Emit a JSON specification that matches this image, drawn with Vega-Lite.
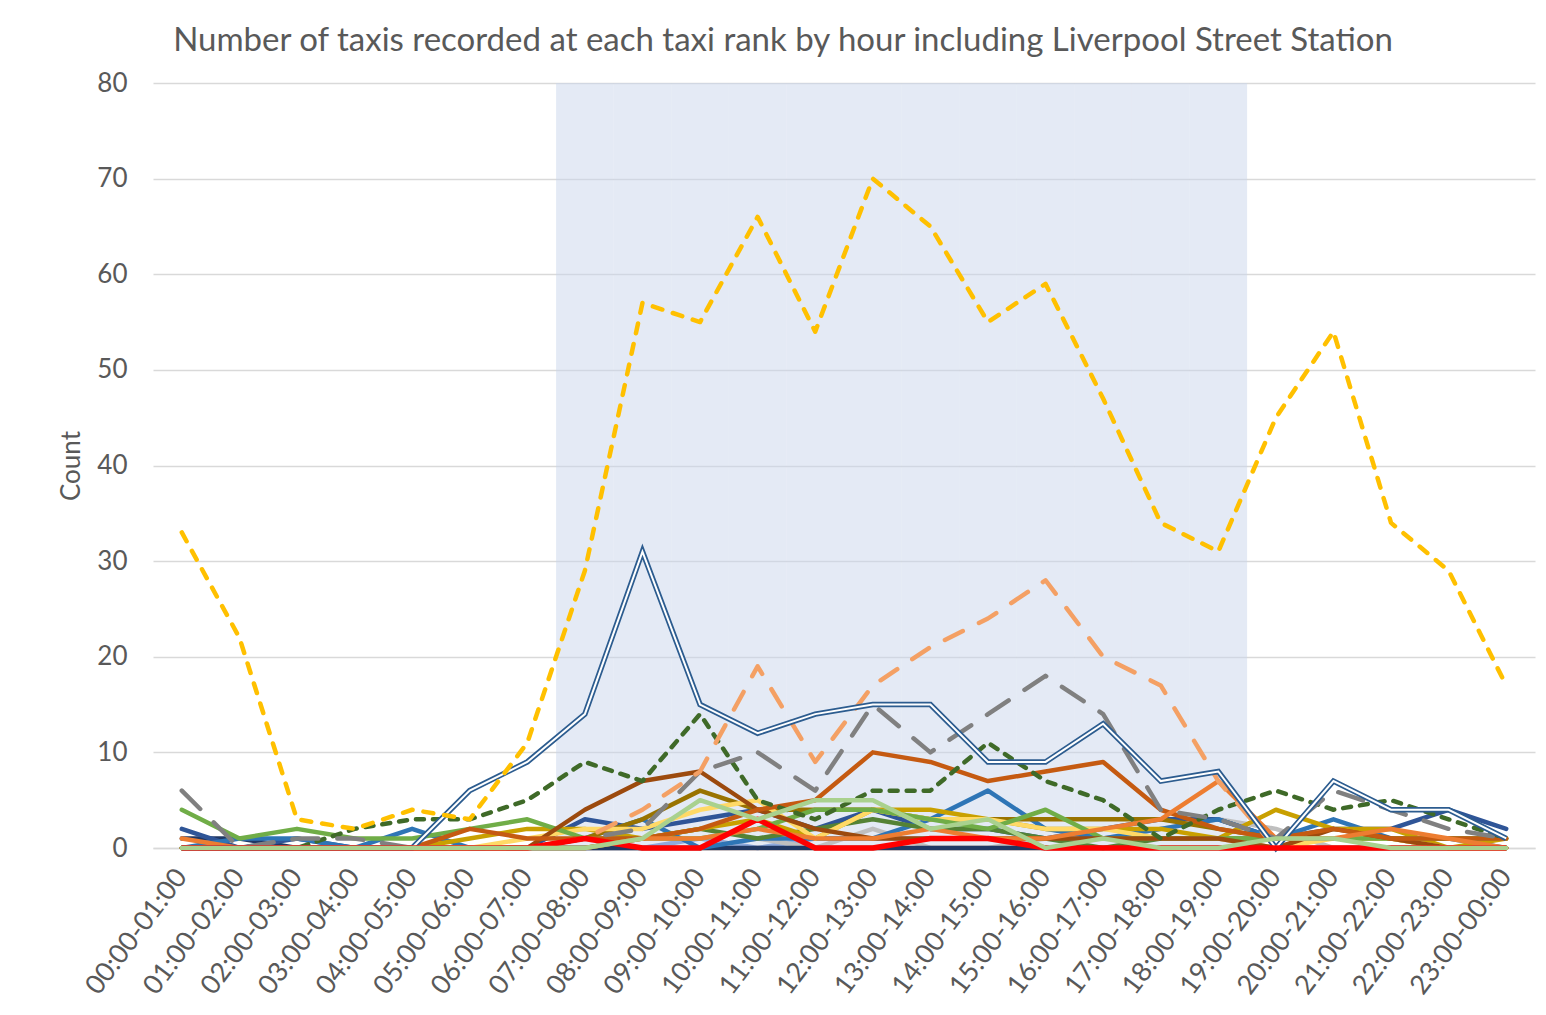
{
  "$schema": "https://vega.github.io/schema/vega-lite/v6.json",
  "width": 1382,
  "height": 765,
  "autosize": "none",
  "padding": {"left": 153, "top": 83, "right": 11, "bottom": 167},
  "background": "white",
  "config": {"view": {"stroke": null}, "font": "Lato"},
  "title": {
    "text": "Number of taxis recorded at each taxi rank by hour including Liverpool Street Station",
    "anchor": "middle",
    "frame": "group",
    "dx": -61,
    "offset": 12,
    "fontSize": 33,
    "font": "Lato",
    "fontWeight": "normal",
    "color": "#595959"
  },
  "datasets": {
    "band": [
      {"h": "07:00-08:00", "v": 80}, {"h": "08:00-09:00", "v": 80}, {"h": "09:00-10:00", "v": 80},
      {"h": "10:00-11:00", "v": 80}, {"h": "11:00-12:00", "v": 80}, {"h": "12:00-13:00", "v": 80},
      {"h": "13:00-14:00", "v": 80}, {"h": "14:00-15:00", "v": 80}, {"h": "15:00-16:00", "v": 80},
      {"h": "16:00-17:00", "v": 80}, {"h": "17:00-18:00", "v": 80}, {"h": "18:00-19:00", "v": 80}
    ],
    "hours": [
      {"h": "00:00-01:00", "Y": 33, "D": 0, "OD": 0, "G": 6, "DG": 0, "PE": 0, "LB": 0, "LGR": 0, "NV": 1, "DB": 2, "BL": 0, "GS": 0, "GO": 0, "OL": 0, "LY": 0, "GR": 4, "BR": 0, "OR": 0, "O": 1, "R": 0, "LG": 0},
      {"h": "01:00-02:00", "Y": 22, "D": 0, "OD": 0, "G": 0, "DG": 0, "PE": 0, "LB": 0, "LGR": 0, "NV": 1, "DB": 0, "BL": 1, "GS": 0, "GO": 0, "OL": 0, "LY": 0, "GR": 1, "BR": 0, "OR": 0, "O": 0, "R": 0, "LG": 0},
      {"h": "02:00-03:00", "Y": 3, "D": 0, "OD": 0, "G": 1, "DG": 0, "PE": 0, "LB": 0, "LGR": 0, "NV": 0, "DB": 1, "BL": 1, "GS": 0, "GO": 0, "OL": 0, "LY": 0, "GR": 2, "BR": 0, "OR": 0, "O": 0, "R": 0, "LG": 0},
      {"h": "03:00-04:00", "Y": 2, "D": 0, "OD": 0, "G": 1, "DG": 2, "PE": 0, "LB": 0, "LGR": 0, "NV": 0, "DB": 0, "BL": 0, "GS": 0, "GO": 0, "OL": 0, "LY": 0, "GR": 1, "BR": 0, "OR": 0, "O": 0, "R": 0, "LG": 0},
      {"h": "04:00-05:00", "Y": 4, "D": 0, "OD": 0, "G": 0, "DG": 3, "PE": 0, "LB": 0, "LGR": 0, "NV": 0, "DB": 0, "BL": 2, "GS": 0, "GO": 0, "OL": 0, "LY": 0, "GR": 1, "BR": 0, "OR": 0, "O": 0, "R": 0, "LG": 0},
      {"h": "05:00-06:00", "Y": 3, "D": 6, "OD": 0, "G": 0, "DG": 3, "PE": 0, "LB": 0, "LGR": 0, "NV": 0, "DB": 0, "BL": 0, "GS": 0, "GO": 1, "OL": 0, "LY": 0, "GR": 2, "BR": 0, "OR": 2, "O": 0, "R": 0, "LG": 0},
      {"h": "06:00-07:00", "Y": 11, "D": 9, "OD": 0, "G": 0, "DG": 5, "PE": 0, "LB": 0, "LGR": 0, "NV": 0, "DB": 0, "BL": 0, "GS": 0, "GO": 2, "OL": 0, "LY": 1, "GR": 3, "BR": 0, "OR": 1, "O": 0, "R": 0, "LG": 0},
      {"h": "07:00-08:00", "Y": 29, "D": 14, "OD": 1, "G": 1, "DG": 9, "PE": 0, "LB": 0, "LGR": 0, "NV": 0, "DB": 3, "BL": 1, "GS": 0, "GO": 2, "OL": 1, "LY": 2, "GR": 1, "BR": 4, "OR": 1, "O": 0, "R": 1, "LG": 0},
      {"h": "08:00-09:00", "Y": 57, "D": 31, "OD": 4, "G": 2, "DG": 7, "PE": 0, "LB": 0, "LGR": 0, "NV": 0, "DB": 2, "BL": 3, "GS": 1, "GO": 1, "OL": 3, "LY": 2, "GR": 1, "BR": 7, "OR": 1, "O": 1, "R": 0, "LG": 1},
      {"h": "09:00-10:00", "Y": 55, "D": 15, "OD": 8, "G": 8, "DG": 14, "PE": 0, "LB": 1, "LGR": 0, "NV": 0, "DB": 3, "BL": 0, "GS": 2, "GO": 2, "OL": 6, "LY": 4, "GR": 1, "BR": 8, "OR": 2, "O": 1, "R": 0, "LG": 5},
      {"h": "10:00-11:00", "Y": 66, "D": 12, "OD": 19, "G": 10, "DG": 5, "PE": 0, "LB": 0, "LGR": 1, "NV": 0, "DB": 4, "BL": 1, "GS": 1, "GO": 3, "OL": 4, "LY": 5, "GR": 2, "BR": 4, "OR": 4, "O": 2, "R": 3, "LG": 3},
      {"h": "11:00-12:00", "Y": 54, "D": 14, "OD": 9, "G": 6, "DG": 3, "PE": 0, "LB": 1, "LGR": 0, "NV": 0, "DB": 2, "BL": 1, "GS": 2, "GO": 1, "OL": 4, "LY": 1, "GR": 4, "BR": 2, "OR": 5, "O": 1, "R": 0, "LG": 5},
      {"h": "12:00-13:00", "Y": 70, "D": 15, "OD": 17, "G": 15, "DG": 6, "PE": 0, "LB": 1, "LGR": 2, "NV": 0, "DB": 4, "BL": 1, "GS": 3, "GO": 4, "OL": 4, "LY": 4, "GR": 4, "BR": 1, "OR": 10, "O": 1, "R": 0, "LG": 5},
      {"h": "13:00-14:00", "Y": 65, "D": 15, "OD": 21, "G": 10, "DG": 6, "PE": 0, "LB": 1, "LGR": 0, "NV": 0, "DB": 2, "BL": 3, "GS": 2, "GO": 4, "OL": 3, "LY": 3, "GR": 3, "BR": 1, "OR": 9, "O": 2, "R": 1, "LG": 2},
      {"h": "14:00-15:00", "Y": 55, "D": 9, "OD": 24, "G": 14, "DG": 11, "PE": 0, "LB": 1, "LGR": 0, "NV": 0, "DB": 2, "BL": 6, "GS": 2, "GO": 3, "OL": 3, "LY": 3, "GR": 2, "BR": 1, "OR": 7, "O": 1, "R": 1, "LG": 3},
      {"h": "15:00-16:00", "Y": 59, "D": 9, "OD": 28, "G": 18, "DG": 7, "PE": 0, "LB": 1, "LGR": 1, "NV": 0, "DB": 1, "BL": 2, "GS": 1, "GO": 2, "OL": 3, "LY": 2, "GR": 4, "BR": 1, "OR": 8, "O": 1, "R": 0, "LG": 0},
      {"h": "16:00-17:00", "Y": 47, "D": 13, "OD": 20, "G": 14, "DG": 5, "PE": 0, "LB": 1, "LGR": 1, "NV": 0, "DB": 2, "BL": 1, "GS": 0, "GO": 2, "OL": 3, "LY": 2, "GR": 1, "BR": 1, "OR": 9, "O": 2, "R": 0, "LG": 1},
      {"h": "17:00-18:00", "Y": 34, "D": 7, "OD": 17, "G": 4, "DG": 1, "PE": 0, "LB": 1, "LGR": 2, "NV": 0, "DB": 3, "BL": 2, "GS": 1, "GO": 2, "OL": 3, "LY": 1, "GR": 1, "BR": 1, "OR": 4, "O": 3, "R": 0, "LG": 0},
      {"h": "18:00-19:00", "Y": 31, "D": 8, "OD": 7, "G": 3, "DG": 4, "PE": 0, "LB": 1, "LGR": 3, "NV": 0, "DB": 3, "BL": 3, "GS": 1, "GO": 1, "OL": 2, "LY": 1, "GR": 1, "BR": 1, "OR": 2, "O": 7, "R": 0, "LG": 0},
      {"h": "19:00-20:00", "Y": 45, "D": 0, "OD": 0, "G": 1, "DG": 6, "PE": 0, "LB": 0, "LGR": 2, "NV": 0, "DB": 1, "BL": 1, "GS": 1, "GO": 4, "OL": 1, "LY": 0, "GR": 1, "BR": 0, "OR": 1, "O": 1, "R": 0, "LG": 1},
      {"h": "20:00-21:00", "Y": 54, "D": 7, "OD": 0, "G": 6, "DG": 4, "PE": 0, "LB": 0, "LGR": 0, "NV": 0, "DB": 2, "BL": 3, "GS": 1, "GO": 2, "OL": 1, "LY": 1, "GR": 1, "BR": 2, "OR": 2, "O": 1, "R": 0, "LG": 1},
      {"h": "21:00-22:00", "Y": 34, "D": 4, "OD": 0, "G": 4, "DG": 5, "PE": 0, "LB": 0, "LGR": 0, "NV": 0, "DB": 2, "BL": 1, "GS": 1, "GO": 2, "OL": 1, "LY": 1, "GR": 1, "BR": 1, "OR": 1, "O": 2, "R": 0, "LG": 0},
      {"h": "22:00-23:00", "Y": 29, "D": 4, "OD": 0, "G": 2, "DG": 3, "PE": 0, "LB": 0, "LGR": 0, "NV": 0, "DB": 4, "BL": 1, "GS": 1, "GO": 0, "OL": 0, "LY": 0, "GR": 1, "BR": 0, "OR": 1, "O": 1, "R": 0, "LG": 0},
      {"h": "23:00-00:00", "Y": 17, "D": 1, "OD": 0, "G": 1, "DG": 1, "PE": 0, "LB": 0, "LGR": 0, "NV": 0, "DB": 2, "BL": 0, "GS": 1, "GO": 1, "OL": 0, "LY": 0, "GR": 1, "BR": 0, "OR": 1, "O": 0, "R": 0, "LG": 0}
    ]
  },
  "encoding": {
    "x": {
      "field": "h",
      "type": "ordinal",
      "scale": {
        "domain": ["00:00-01:00", "01:00-02:00", "02:00-03:00", "03:00-04:00", "04:00-05:00", "05:00-06:00", "06:00-07:00", "07:00-08:00", "08:00-09:00", "09:00-10:00", "10:00-11:00", "11:00-12:00", "12:00-13:00", "13:00-14:00", "14:00-15:00", "15:00-16:00", "16:00-17:00", "17:00-18:00", "18:00-19:00", "19:00-20:00", "20:00-21:00", "21:00-22:00", "22:00-23:00", "23:00-00:00"],
        "paddingInner": 0,
        "paddingOuter": 0
      },
      "axis": {
        "title": null,
        "labelAngle": -53,
        "labelAlign": "right",
        "labelBaseline": "middle",
        "labelFontSize": 27,
        "labelFont": "Lato",
        "labelColor": "#595959",
        "labelPadding": 24,
        "ticks": false,
        "grid": false,
        "domain": true,
        "domainColor": "#D9D9D9",
        "domainWidth": 1.5
      }
    },
    "y": {
      "field": "v",
      "type": "quantitative",
      "scale": {"domain": [0, 80], "nice": false},
      "axis": {
        "title": "Count",
        "titleFontSize": 26,
        "titleFont": "Lato",
        "titleFontWeight": "normal",
        "titleColor": "#595959",
        "titlePadding": 12,
        "values": [0, 10, 20, 30, 40, 50, 60, 70, 80],
        "grid": true,
        "gridColor": "#D9D9D9",
        "gridWidth": 1.5,
        "domain": false,
        "ticks": false,
        "labelFontSize": 26,
        "labelFont": "Lato",
        "labelColor": "#595959",
        "labelPadding": 26
      }
    }
  },
  "layer": [
    {
      "data": {"name": "band"},
      "mark": {"type": "bar", "color": "#C9D5EB", "opacity": 0.5}
    },
    {
      "data": {"name": "hours"},
      "transform": [{"fold": ["PE", "LB", "LGR", "NV", "DB", "BL", "GS", "GO", "OL", "LY", "GR", "BR", "OR", "O"], "as": ["key", "v"]}],
      "mark": {"type": "line", "strokeWidth": 4.5, "strokeJoin": "round", "strokeCap": "round"},
      "encoding": {
        "color": {
          "field": "key",
          "type": "nominal",
          "scale": {
            "domain": ["PE", "LB", "LGR", "NV", "DB", "BL", "GS", "GO", "OL", "LY", "GR", "BR", "OR", "O"],
            "range": ["#F4B183", "#8FAADC", "#BFBFBF", "#203864", "#2F5597", "#2E75B6", "#548235", "#C9A000", "#997300", "#FFD966", "#70AD47", "#9C4A0E", "#C55A11", "#ED7D31"]
          },
          "legend": null
        }
      }
    },
    {
      "data": {"name": "hours"},
      "transform": [{"fold": ["DG"], "as": ["key", "v"]}],
      "mark": {"type": "line", "strokeWidth": 4.5, "color": "#3F6A28", "strokeDash": [8, 9], "strokeCap": "round", "strokeJoin": "round"},
      "encoding": {}
    },
    {
      "data": {"name": "hours"},
      "transform": [{"fold": ["G"], "as": ["key", "v"]}],
      "mark": {"type": "line", "strokeWidth": 4.5, "color": "#808080", "strokeDash": [26, 19], "strokeCap": "round", "strokeJoin": "round"},
      "encoding": {}
    },
    {
      "data": {"name": "hours"},
      "transform": [{"fold": ["OD"], "as": ["key", "v"]}],
      "mark": {"type": "line", "strokeWidth": 4.5, "color": "#F4A064", "strokeDash": [20, 18], "strokeCap": "round", "strokeJoin": "round"},
      "encoding": {}
    },
    {
      "data": {"name": "hours"},
      "transform": [{"fold": ["D"], "as": ["key", "v"]}],
      "mark": {"type": "line", "strokeWidth": 5.5, "color": "#2C5C8F", "strokeJoin": "miter"},
      "encoding": {}
    },
    {
      "data": {"name": "hours"},
      "transform": [{"fold": ["D"], "as": ["key", "v"]}],
      "mark": {"type": "line", "strokeWidth": 2, "color": "#FFFFFF", "strokeJoin": "miter"},
      "encoding": {}
    },
    {
      "data": {"name": "hours"},
      "transform": [{"fold": ["R"], "as": ["key", "v"]}],
      "mark": {"type": "line", "strokeWidth": 5.5, "color": "#FF0000", "strokeJoin": "round"},
      "encoding": {}
    },
    {
      "data": {"name": "hours"},
      "transform": [{"fold": ["LG"], "as": ["key", "v"]}],
      "mark": {"type": "line", "strokeWidth": 4.5, "color": "#A9D18E", "strokeJoin": "round", "strokeCap": "round"},
      "encoding": {}
    },
    {
      "data": {"name": "hours"},
      "transform": [{"fold": ["Y"], "as": ["key", "v"]}],
      "mark": {"type": "line", "strokeWidth": 4.5, "color": "#FFC000", "strokeDash": [10, 11], "strokeCap": "round", "strokeJoin": "round"},
      "encoding": {}
    }
  ]
}
